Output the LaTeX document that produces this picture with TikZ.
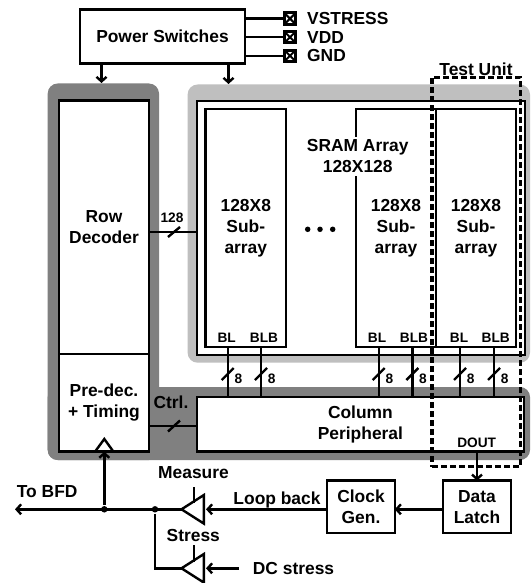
\documentclass[tikz,border=0pt]{standalone}
\usepackage{fontspec}
\setmainfont{Liberation Sans}
\usetikzlibrary{arrows.meta,shapes.geometric}

\definecolor{darkband}{gray}{0.5}
\definecolor{lightband}{gray}{0.75}
\tikzset{
    blockbox/.style={draw,fill=white,outer sep=0pt,inner sep=0pt,align=center},
    biglabel/.style={inner sep=0pt,align=center},
    smalllabel/.style={inner sep=0pt,font=\fontsize{13.7}{16}\bfseries\selectfont},
    pinbox/.style={draw,line width=3pt,minimum size=11.5pt,inner sep=0pt,outer sep=0pt,
        path picture={\draw[line width=2pt] (path picture bounding box.north west) -- (path picture bounding box.south east)
            (path picture bounding box.north east) -- (path picture bounding box.south west);}},
    drivertri/.style={draw,isosceles triangle,isosceles triangle stretches,shape border rotate=180,
        minimum width=28.5pt,minimum height=22.3pt,inner sep=0pt,outer sep=0pt},
    joindot/.style={circle,fill,minimum size=6.5pt,inner sep=0pt},
    elldot/.style={circle,fill,minimum size=5.5pt,inner sep=0pt},
    testbox/.style={draw,dash pattern=on 5.5pt off 3.5pt,line width=3.3pt,inner sep=0pt,outer sep=0pt},
}

\begin{document}
\begin{tikzpicture}[x=1pt,y=-1pt,line width=2.4pt,>={Straight Barb[length=4.5pt,width=10pt]},
    font=\fontsize{17.4}{21}\bfseries\selectfont]
    \useasboundingbox (0,0) rectangle (530,583);
    % grey bands
    \fill[darkband,rounded corners=10pt] (47.7,83.5) rectangle (159,460);
    \fill[darkband,rounded corners=10pt] (47.7,387) rectangle (530,460);
    \fill[lightband,rounded corners=10pt] (187.6,84.5) rectangle (530,362.7);
    % power switches
    \node[blockbox,minimum width=165pt,minimum height=54pt] (power) at (162.5,36.5) {Power Switches};
    \node[pinbox] (vstress) at (290,18.6) {};
    \node[pinbox] (vdd) at (290,37.2) {};
    \node[pinbox] (gnd) at (290,55.8) {};
    \node[biglabel,anchor=west] (vstresstext) at (306,18.6) {VSTRESS};
    \node[biglabel,anchor=west] (vddtext) at (306,37.2) {VDD};
    \node[biglabel,anchor=west] (gndtext) at (306,55.8) {GND};
    \draw (power.east |- vstress) -- (vstress);
    \draw (power.east |- vdd) -- (vdd);
    \draw (power.east |- gnd) -- (gnd);
    \coordinate (rowsupply) at (101.5,83);
    \coordinate (arraysupply) at (228.5,84);
    \draw[->] (power.south -| rowsupply) -- (rowsupply);
    \draw[->] (power.south -| arraysupply) -- (arraysupply);
    % row side
    \node[blockbox,minimum width=90pt,minimum height=253.3pt] (rowdec) at (104,227.3) {Row\\Decoder};
    \node[blockbox,minimum width=90pt,minimum height=97.7pt] (predec) at (104,402.8) {Pre-dec.\\+ Timing};
    % SRAM array
    \node[blockbox,minimum width=327.7pt,minimum height=254pt] (array) at (360.9,228) {};
    \node[blockbox,minimum width=80.5pt,minimum height=238pt] (suba) at (245.8,228) {128X8\\Sub-\\array};
    \node[blockbox,minimum width=80pt,minimum height=238pt] (subb) at (396,228) {128X8\\Sub-\\array};
    \node[blockbox,minimum width=80pt,minimum height=238pt] (subc) at (476,228) {128X8\\Sub-\\array};
    \node[biglabel,fill=white,inner ysep=3pt,inner xsep=0pt] (sramtext) at (357.7,156.5) {SRAM Array\\128X128};
    \foreach \dotname/\dotx in {dota/307.7,dotb/320,dotc/332.7}
        \node[elldot] (\dotname) at (\dotx,229.3) {};
    \foreach \labname/\labx/\labtext in {bla/226.7/BL,blba/264/BLB,blb/377/BL,blbb/414/BLB,blc/459/BL,blbc/495.7/BLB}
        \node[smalllabel] (\labname) at (\labx,338) {\labtext};
    % row bus
    \draw (rowdec.east |- 0,231.7) coordinate (rowbus) -- (rowbus -| array.west);
    \draw (168,237) -- (180,227);
    \node[smalllabel] (rowbustext) at (172,218) {128};
    % column peripheral
    \node[blockbox,minimum width=327.3pt,minimum height=54.7pt] (column) at (360.4,424.3) {Column\\Peripheral};
    \foreach \busname/\busx in {busa/227.7,busb/261,busc/378.7,busd/412.3,buse/460,busf/494} {
        \coordinate (\busname) at (\busx,374);
        \draw (\busname |- suba.south) -- (\busname |- column.north);
        \draw ([shift={(-6,6)}]\busname) -- ([shift={(6,-6)}]\busname);
        \node[smalllabel] (\busname text) at ([shift={(10.7,5)}]\busname) {8};
    }
    % ctrl bus
    \draw (predec.east |- 0,426) coordinate (ctrlbus) -- (ctrlbus -| column.west);
    \draw (168,431.5) -- (180,420.5);
    \node[biglabel] (ctrltext) at (171,402.7) {Ctrl.};
    % output path
    \node[smalllabel] (douttext) at (476.7,443) {DOUT};
    \node[blockbox,minimum width=68pt,minimum height=52.5pt] (latch) at (477,506.9) {Data\\Latch};
    \node[blockbox,minimum width=67.5pt,minimum height=52.5pt] (clockgen) at (361,506.9) {Clock\\Gen.};
    \draw[->] (latch.north |- column.south) -- (latch.north);
    \draw[->] (latch.west |- 0,509.3) coordinate (looppoint) -- (looppoint -| clockgen.east);
    % drivers
    \node[drivertri] (measdrv) at (196,509.3) {};
    \node[drivertri] (stressdrv) at (196,568.3) {};
    \node[biglabel] (looptext) at (277,500) {Loop back};
    \node[biglabel] (meastext) at (193.5,473) {Measure};
    \node[biglabel] (stresstext) at (193.3,536) {Stress};
    \node[biglabel,anchor=west] (dctext) at (251.7,568.3) {DC stress};
    \coordinate (dcfree) at (239,568.3);
    \coordinate (bfdfree) at (15,509.3);
    \node[biglabel,anchor=west] (bfdtext) at (15.7,492) {To BFD};
    \draw[->] (clockgen.west |- measdrv.apex) -- (206,509.3);
    \draw[->] (dcfree) -- (206,568.3);
    \draw (194,487) -- (194,503);
    \draw (194,545) -- (194,562);
    \node[joindot] (joina) at (104.3,509.3) {};
    \node[joindot] (joinb) at (155,509.3) {};
    \draw[->] (measdrv.apex) -- (bfdfree);
    \draw (joinb) |- (stressdrv.apex);
    \draw[->] (joina) -- (joina |- predec.south);
    \draw (95,451.7) -- (104.3,439) -- (113.5,451.7);
    % test unit
    \node[testbox,minimum width=88.3pt,minimum height=389.3pt] (testunit) at (476.2,272) {};
    \node[biglabel] (testtext) at (476,69) {Test Unit};
\end{tikzpicture}
\end{document}
